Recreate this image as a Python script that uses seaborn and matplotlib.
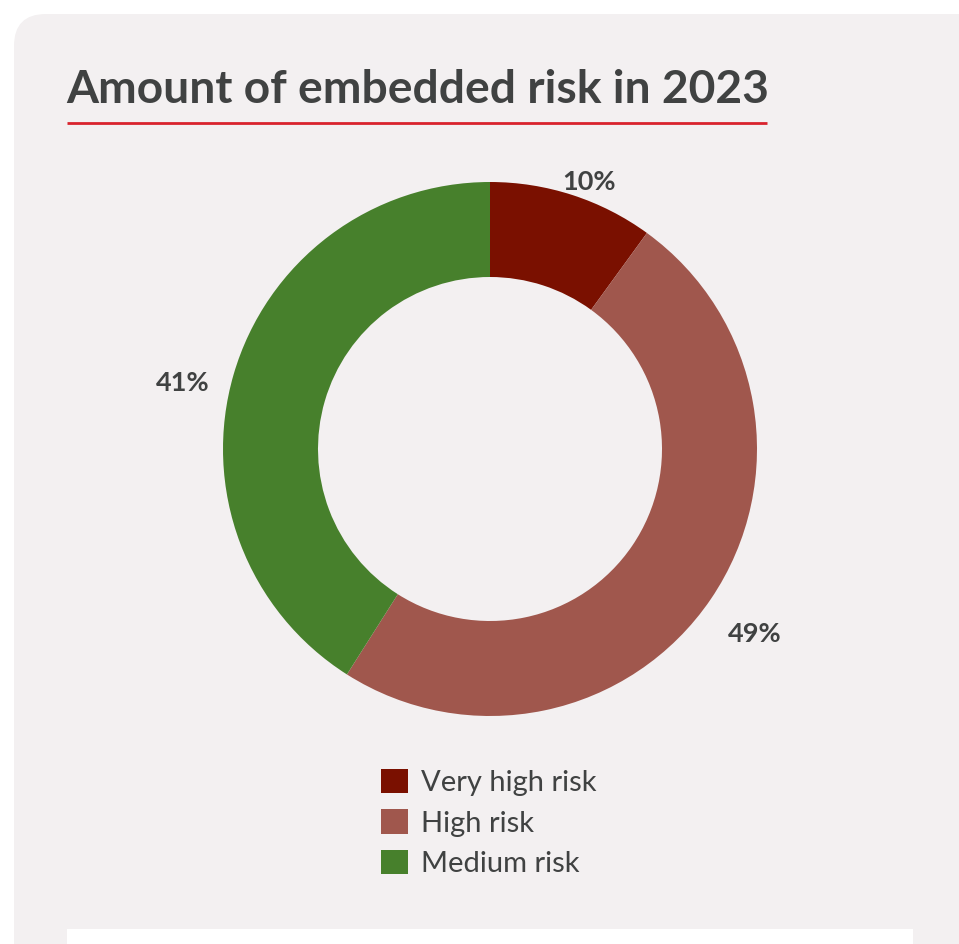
import numpy as np
import matplotlib
matplotlib.use("Agg")
import matplotlib.pyplot as plt
from matplotlib.patches import FancyBboxPatch, Rectangle, Patch
import seaborn as sns

# Data
categories = ["Very high risk", "High risk", "Medium risk"]
shares = [10, 49, 41]
title = "Amount of embedded risk in 2023"

# Styling
colors = sns.color_palette(["#7A1000", "#A0574D", "#47802C"])
card_bg = "#F3F0F1"
text_col = "#404242"
accent = "#D9232D"

sns.set_theme(style="white")
plt.rcParams["font.family"] = ["Lato", "DejaVu Sans"]

W, H = 959, 944
fig = plt.figure(figsize=(W / 100, H / 100), dpi=100)
fig.patch.set_facecolor("white")

# Background layer in pixel coordinates
bg = fig.add_axes([0, 0, 1, 1])
bg.set_xlim(0, W)
bg.set_ylim(H, 0)
bg.axis("off")
bg.add_patch(FancyBboxPatch((14, 14), 1000, 1000,
                            boxstyle="round,pad=0,rounding_size=32",
                            facecolor=card_bg, edgecolor="none"))
bg.add_patch(Rectangle((67, 929), 846, 40, facecolor="white", edgecolor="none"))
bg.text(66, 103, title, fontsize=33.2, fontweight="bold", color=text_col,
        ha="left", va="baseline")
bg.plot([67, 767], [123, 123], color=accent, lw=2, solid_capstyle="butt")

# Donut chart
cx, cy, R, r_in = 490, 449, 267, 172
ax = fig.add_axes([(cx - R) / W, 1 - (cy + R) / H, 2 * R / W, 2 * R / H])

wedges, _ = ax.pie(shares, colors=colors, startangle=90, counterclock=False,
                   radius=1, wedgeprops=dict(width=(R - r_in) / R, edgecolor="none"))
ax.set_xlim(-1, 1)
ax.set_ylim(-1, 1)
ax.set_aspect("equal")
ax.axis("off")

# Percentage labels outside the ring
total = sum(shares)
for w, v in zip(wedges, shares):
    mid = np.deg2rad((w.theta1 + w.theta2) / 2)
    ax.text(1.2 * np.cos(mid), 1.12 * np.sin(mid) - 0.02, f"{round(100 * v / total)}%",
            ha="center", va="top", fontsize=19.5, fontweight="bold",
            color=text_col, clip_on=False)

# Legend below the chart
handles = [Patch(facecolor=c, edgecolor="none") for c in colors]
leg = fig.legend(handles, categories, loc="upper left",
                 bbox_to_anchor=(366 / W, 1 - 754 / H), frameon=False,
                 fontsize=21, handlelength=0.93, handleheight=0.93,
                 handletextpad=0.45, labelspacing=0.45, borderpad=0,
                 labelcolor=text_col)

fig.savefig("out.png", dpi=100, facecolor=fig.get_facecolor())
